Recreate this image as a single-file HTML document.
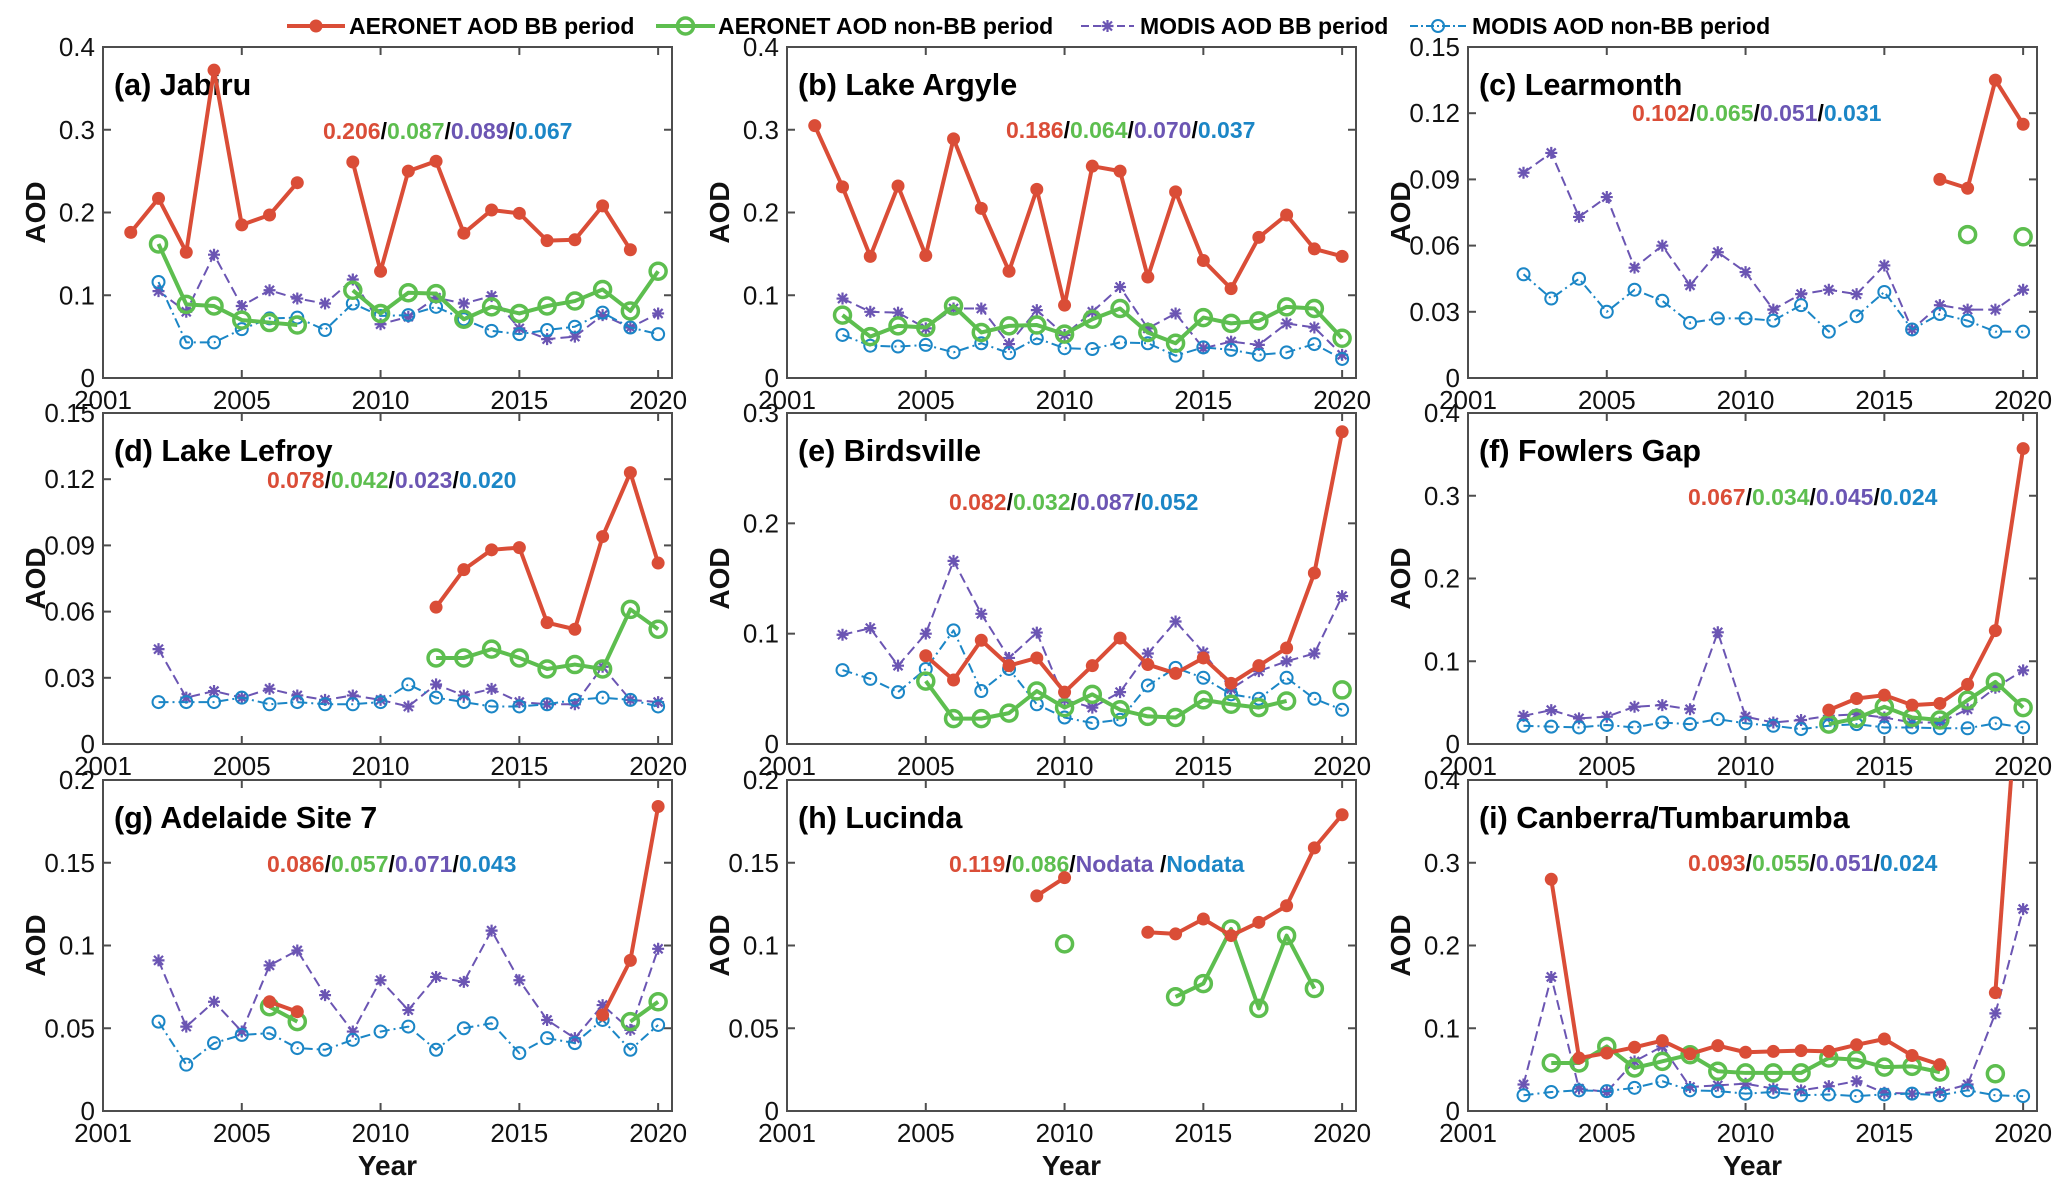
<!DOCTYPE html>
<html><head><meta charset="utf-8"><style>
html,body{margin:0;padding:0;background:#fff}
svg{display:block}
text{font-family:"Liberation Sans",Arial,sans-serif}
</style></head><body>
<svg id="chart" width="2067" height="1193" viewBox="0 0 2067 1193" xmlns="http://www.w3.org/2000/svg"></svg>
<script>
const years = [2001,2002,2003,2004,2005,2006,2007,2008,2009,2010,2011,2012,2013,2014,2015,2016,2017,2018,2019,2020];
const N = null;
const panelTitles = ["(a) Jabiru","(b) Lake Argyle","(c) Learmonth","(d) Lake Lefroy","(e) Birdsville","(f) Fowlers Gap","(g) Adelaide Site 7","(h) Lucinda","(i) Canberra/Tumbarumba"];
const statsText = [["0.206","0.087","0.089","0.067"],["0.186","0.064","0.070","0.037"],["0.102","0.065","0.051","0.031"],["0.078","0.042","0.023","0.020"],["0.082","0.032","0.087","0.052"],["0.067","0.034","0.045","0.024"],["0.086","0.057","0.071","0.043"],["0.119","0.086","Nodata ","Nodata"],["0.093","0.055","0.051","0.024"]];
const yMax = [0.4,0.4,0.15,0.15,0.3,0.4,0.2,0.2,0.4];
const yTickLabels = [["0","0.1","0.2","0.3","0.4"],["0","0.1","0.2","0.3","0.4"],["0","0.03","0.06","0.09","0.12","0.15"],["0","0.03","0.06","0.09","0.12","0.15"],["0","0.1","0.2","0.3"],["0","0.1","0.2","0.3","0.4"],["0","0.05","0.1","0.15","0.2"],["0","0.05","0.1","0.15","0.2"],["0","0.1","0.2","0.3","0.4"]];
const xTickYears = [2000,2005,2010,2015,2020];
const xTickLabels = ["2001","2005","2010","2015","2020"];

const aeronetBB = [
 [.176,.217,.152,.372,.185,.197,.236,N,.261,.129,.250,.262,.175,.203,.199,.166,.167,.208,.155,N],
 [.305,.231,.147,.232,.148,.289,.205,.129,.228,.088,.256,.250,.122,.225,.142,.108,.170,.197,.156,.147],
 [N,N,N,N,N,N,N,N,N,N,N,N,N,N,N,N,.090,.086,.135,.115],
 [N,N,N,N,N,N,N,N,N,N,N,.062,.079,.088,.089,.055,.052,.094,.123,.082],
 [N,N,N,N,.080,.058,.094,.071,.078,.047,.071,.096,.072,.064,.078,.055,.071,.087,.155,.283],
 [N,N,N,N,N,N,N,N,N,N,N,N,.041,.055,.059,.047,.049,.072,.137,.357],
 [N,N,N,N,N,.066,.060,N,N,N,N,N,N,N,N,N,N,.058,.091,.184],
 [N,N,N,N,N,N,N,N,.130,.141,N,N,.108,.107,.116,.106,.114,.124,.159,.179],
 [N,N,.280,.064,.070,.077,.085,.069,.079,.071,.072,.073,.072,.080,.087,.067,.056,N,.143,2.7]
];
const aeronetNonBB = [
 [N,.162,.089,.087,.070,.067,.064,N,.106,.078,.103,.102,.071,.086,.078,.087,.093,.107,.081,.129],
 [N,.076,.050,.063,.061,.087,.055,.063,.064,.053,.071,.084,.055,.042,.073,.066,.069,.086,.084,.048],
 [N,N,N,N,N,N,N,N,N,N,N,N,N,N,N,N,N,.065,N,.064],
 [N,N,N,N,N,N,N,N,N,N,N,.039,.039,.043,.039,.034,.036,.034,.061,.052],
 [N,N,N,N,.057,.023,.023,.028,.048,.033,.045,.031,.025,.024,.040,.036,.033,.039,N,.049],
 [N,N,N,N,N,N,N,N,N,N,N,N,.024,.031,.045,.032,.029,.053,.075,.044],
 [N,N,N,N,N,.063,.054,N,N,N,N,N,N,N,N,N,N,N,.054,.066],
 [N,N,N,N,N,N,N,N,N,.101,N,N,N,.069,.077,.110,.062,.106,.074,N],
 [N,N,.058,.058,.078,.052,.060,.068,.048,.046,.046,.046,.064,.062,.053,.054,.047,N,.045,N]
];
const modisBB = [
 [N,.105,.080,.149,.087,.106,.096,.090,.119,.065,.074,.097,.090,.099,.060,.047,.050,.076,.061,.078],
 [N,.096,.080,.079,.060,.084,.084,.041,.082,.052,.080,.110,.060,.078,.036,.044,.040,.066,.061,.028],
 [N,.093,.102,.073,.082,.050,.060,.042,.057,.048,.031,.038,.040,.038,.051,.022,.033,.031,.031,.040],
 [N,.043,.021,.024,.021,.025,.022,.020,.022,.020,.017,.027,.022,.025,.019,.018,.018,.035,.020,.019],
 [N,.099,.105,.071,.100,.166,.118,.078,.101,.040,.033,.047,.082,.111,.083,.050,.066,.075,.082,.134],
 [N,.034,.041,.031,.033,.045,.047,.042,.135,.033,.026,.029,.034,.036,.032,.026,.026,.042,.068,.089],
 [N,.091,.051,.066,.048,.088,.097,.070,.048,.079,.061,.081,.078,.109,.079,.055,.044,.064,.049,.098],
 [N,N,N,N,N,N,N,N,N,N,N,N,N,N,N,N,N,N,N,N],
 [N,.032,.162,.027,.023,.060,.078,.029,.031,.033,.027,.025,.030,.036,.022,.021,.023,.032,.118,.244]
];
const modisNonBB = [
 [N,.116,.043,.043,.059,.072,.073,.058,.090,.075,.076,.086,.071,.057,.053,.058,.062,.079,.061,.053],
 [N,.052,.039,.038,.040,.031,.042,.030,.048,.036,.035,.043,.042,.027,.037,.034,.028,.031,.041,.023],
 [N,.047,.036,.045,.030,.040,.035,.025,.027,.027,.026,.033,.021,.028,.039,.022,.029,.026,.021,.021],
 [N,.019,.019,.019,.021,.018,.019,.018,.018,.019,.027,.021,.019,.017,.017,.018,.020,.021,.020,.017],
 [N,.067,.059,.047,.068,.103,.048,.068,.036,.024,.019,.022,.053,.069,.060,.045,.041,.060,.041,.031],
 [N,.022,.021,.020,.023,.020,.026,.024,.030,.025,.022,.018,.022,.024,.020,.020,.019,.019,.025,.020],
 [N,.054,.028,.041,.046,.047,.038,.037,.043,.048,.051,.037,.050,.053,.035,.044,.041,.055,.037,.052],
 [N,N,N,N,N,N,N,N,N,N,N,N,N,N,N,N,N,N,N,N],
 [N,.019,.023,.025,.024,.028,.036,.025,.024,.021,.023,.019,.020,.018,.020,.021,.019,.025,.019,.018]
];
const legendLabels = ["AERONET AOD BB period","AERONET AOD non-BB period","MODIS AOD BB period","MODIS AOD non-BB period"];

const RED="#DA4D37", GREEN="#5DBE4F", PURPLE="#6B55B3", BLUE="#1B86C6";
const SVGNS="http://www.w3.org/2000/svg";
const svg=document.getElementById('chart');
function mk(tag,attrs,parent){const e=document.createElementNS(SVGNS,tag);for(const k in attrs)e.setAttribute(k,attrs[k]);(parent||svg).appendChild(e);return e;}

const colLeft=[103,787,1468], rowTop=[47,413,780], PW=569, PH=331;
const statsPos=[[220,84],[219,83],[164,66],[164,67],[162,89],[220,84],[164,84],[162,84],[220,83]];

function marker(g,type,x,y,color){
  let m;
  if(type==='dot'){m=mk('circle',{cx:x,cy:y,r:6.5,fill:color},g);}
  else if(type==='ring'){m=mk('circle',{cx:x,cy:y,r:8,fill:'none',stroke:color,'stroke-width':3.5},g);}
  else if(type==='sring'){m=mk('circle',{cx:x,cy:y,r:6,fill:'none',stroke:color,'stroke-width':2},g);}
  else {m=mk('path',{d:`M${x-6},${y}H${x+6}M${x},${y-6}V${y+6}M${x-4.5},${y-4.5}L${x+4.5},${y+4.5}M${x-4.5},${y+4.5}L${x+4.5},${y-4.5}`,stroke:color,'stroke-width':2.2,fill:'none'},g);}
  
  
}

function drawSeries(g,vals,xs,ys,color,width,dash,mtype,name){
  const sg=mk('g',{},g);
  
  
  let seg=[];
  const flush=()=>{if(seg.length>1){const p=mk('polyline',{points:seg.map(q=>q.join(',')).join(' '),fill:'none',stroke:color,'stroke-width':width,'stroke-linejoin':'round'},sg);if(dash)p.setAttribute('stroke-dasharray',dash);}seg=[];};
  vals.forEach((v,i)=>{if(v===null){flush();return;}seg.push([xs(years[i]),ys(v)]);});
  flush();
  vals.forEach((v,i)=>{if(v!==null){const y=ys(v);if(y>=ys(1e9)-1 && v<100) marker(sg,mtype,xs(years[i]),y,color);}});
}

const defs=mk('defs',{});
for(let p=0;p<9;p++){
  const L=colLeft[p%3], T=rowTop[Math.floor(p/3)];
  const xs=yr=>L+(yr-2000)/20.5*PW;
  const ym=yMax[p];
  const ys=v=>T+PH-(Math.min(v,ym*1.5))/ym*PH;
  const cp=mk('clipPath',{id:'clip'+p},defs);
  mk('rect',{x:L,y:T,width:PW,height:PH},cp);
  const g=mk('g',{});
  
  
  const box=mk('rect',{x:L,y:T,width:PW,height:PH,fill:'none',stroke:'#4d4d4d','stroke-width':2},g);
  
  
  const labs=yTickLabels[p];
  labs.forEach((lab,i)=>{
    const v=ym*i/(labs.length-1); const y=ys(v);
    mk('line',{x1:L,x2:L+8,y1:y,y2:y,stroke:'#4d4d4d','stroke-width':2},g);
    mk('line',{x1:L+PW-8,x2:L+PW,y1:y,y2:y,stroke:'#4d4d4d','stroke-width':2},g);
    const t=mk('text',{x:L-8,y:y+9,'text-anchor':'end','font-size':26,fill:'#111'},g);
    t.textContent=lab;
    
    
  });
  xTickYears.forEach((yr,i)=>{
    const x=xs(yr);
    mk('line',{x1:x,x2:x,y1:T+PH,y2:T+PH-8,stroke:'#4d4d4d','stroke-width':2},g);
    mk('line',{x1:x,x2:x,y1:T,y2:T+8,stroke:'#4d4d4d','stroke-width':2},g);
    const t=mk('text',{x:x,y:T+PH+31,'text-anchor':'middle','font-size':26,fill:'#111'},g);
    t.textContent=xTickLabels[i];
    
    
  });
  const yt=mk('text',{x:0,y:0,transform:`translate(${L-58},${T+PH/2}) rotate(-90)`,'text-anchor':'middle','font-size':28,'font-weight':'bold',fill:'#111'},g);
  yt.textContent='AOD';
  
  
  const tt=mk('text',{x:L+11,y:T+48,'font-size':30.5,'font-weight':'bold',fill:'#000'},g);
  tt.textContent=panelTitles[p];
  
  
  const st=mk('text',{x:L+statsPos[p][0],y:T+statsPos[p][1]+8,'font-size':23,'font-weight':'bold'},g);
  
  
  const cols=[RED,GREEN,PURPLE,BLUE];
  statsText[p].forEach((s,i)=>{
    if(i>0){const sl=mk('tspan',{fill:'#000'},st);sl.textContent='/';}
    const ts=mk('tspan',{fill:cols[i]},st);ts.textContent=s;
  });
  const sg=mk('g',{'clip-path':`url(#clip${p})`},g);
  drawSeries(sg,modisBB[p],xs,ys,PURPLE,2,'10 5','star','modis-bb-series');
  drawSeries(sg,modisNonBB[p],xs,ys,BLUE,2,'10 4 2 4','sring','modis-nonbb-series');
  drawSeries(sg,aeronetNonBB[p],xs,ys,GREEN,4,null,'ring','aeronet-nonbb-series');
  drawSeries(sg,aeronetBB[p],xs,ys,RED,4,null,'dot','aeronet-bb-series');
  if(p>=6){
    const xt=mk('text',{x:L+PW/2,y:T+PH+64,'text-anchor':'middle','font-size':28,'font-weight':'bold',fill:'#111'},g);
    xt.textContent='Year';
    
    
  }
}
const lg=mk('g',{});


const legX=[[287,345,349],[656,715,718],[1081,1134,1140],[1410,1466,1472]];
const legCol=[RED,GREEN,PURPLE,BLUE], legW=[4,4,2,2], legDash=[null,null,'8 4','8 3 2 3'], legM=['dot','ring','star','sring'];
for(let i=0;i<4;i++){
  const eg=mk('g',{},lg);
  
  
  const ln=mk('line',{x1:legX[i][0],x2:legX[i][1],y1:26,y2:26,stroke:legCol[i],'stroke-width':legW[i]},eg);
  if(legDash[i])ln.setAttribute('stroke-dasharray',legDash[i]);
  marker(eg,legM[i],(legX[i][0]+legX[i][1])/2,26,legCol[i]);
  const t=mk('text',{x:legX[i][2],y:34,'font-size':23,'font-weight':'bold',fill:'#000'},eg);
  t.textContent=legendLabels[i];
}
</script>
</body></html>
